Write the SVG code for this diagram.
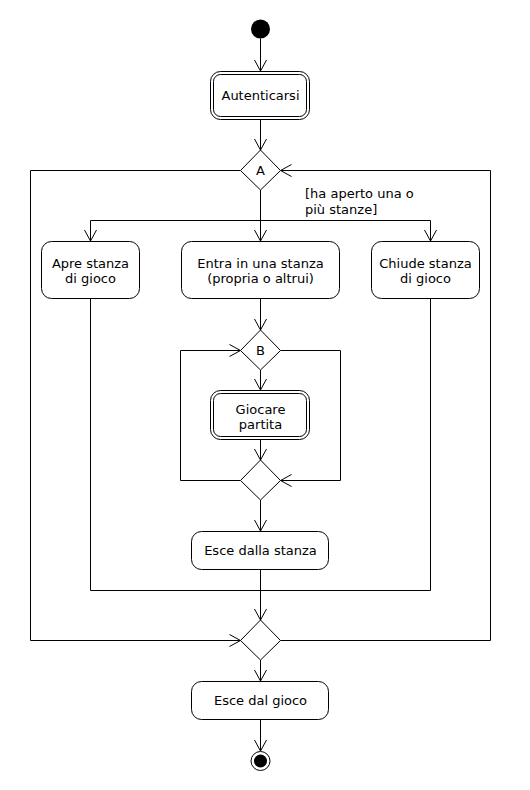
<svg xmlns="http://www.w3.org/2000/svg" width="530" height="790" viewBox="0 0 530 790">
<style>
.ln{fill:none;stroke:#000;stroke-width:1}
.box{fill:#fff;stroke:#000;stroke-width:1}
.dia{fill:#fff;stroke:#000;stroke-width:1}
text{font-family:"DejaVu Sans",sans-serif;font-size:13px;fill:#000}
.c{text-anchor:middle}
</style>
<defs>
<marker id="arr" markerUnits="userSpaceOnUse" markerWidth="14" markerHeight="14" refX="11" refY="6" orient="auto" overflow="visible">
<path d="M0,0 L11,6 L0,12" fill="none" stroke="#000" stroke-width="1"/>
</marker>
</defs>
<rect width="530" height="790" fill="#fff"/>
<g id="connectors">
<line class="ln" x1="260.5" y1="38.5" x2="260.5" y2="71" marker-end="url(#arr)"/>
<line class="ln" x1="260.5" y1="119.5" x2="260.5" y2="150" marker-end="url(#arr)"/>
<polyline class="ln" points="240.5,170.5 30.5,170.5 30.5,640.5 240.5,640.5" marker-end="url(#arr)"/>
<polyline class="ln" points="280.5,640.5 490.5,640.5 490.5,170.5 280.5,170.5" marker-end="url(#arr)"/>
<line class="ln" x1="260.5" y1="190" x2="260.5" y2="241" marker-end="url(#arr)"/>
<line class="ln" x1="90.5" y1="220.5" x2="430.5" y2="220.5"/>
<line class="ln" x1="90.5" y1="220.5" x2="90.5" y2="241" marker-end="url(#arr)"/>
<line class="ln" x1="430.5" y1="220.5" x2="430.5" y2="241" marker-end="url(#arr)"/>
<line class="ln" x1="260.5" y1="298.5" x2="260.5" y2="330" marker-end="url(#arr)"/>
<polyline class="ln" points="240.5,480.5 180.5,480.5 180.5,350.5 240.5,350.5" marker-end="url(#arr)"/>
<polyline class="ln" points="280.5,350.5 340.5,350.5 340.5,480.5 280.5,480.5" marker-end="url(#arr)"/>
<line class="ln" x1="260.5" y1="370" x2="260.5" y2="390" marker-end="url(#arr)"/>
<line class="ln" x1="260.5" y1="439.5" x2="260.5" y2="460" marker-end="url(#arr)"/>
<line class="ln" x1="260.5" y1="500" x2="260.5" y2="531" marker-end="url(#arr)"/>
<line class="ln" x1="260.5" y1="569.5" x2="260.5" y2="620" marker-end="url(#arr)"/>
<polyline class="ln" points="90.5,298.5 90.5,590.5 430.5,590.5 430.5,298.5"/>
<line class="ln" x1="260.5" y1="660" x2="260.5" y2="681" marker-end="url(#arr)"/>
<line class="ln" x1="260.5" y1="719.5" x2="260.5" y2="751" marker-end="url(#arr)"/>
<text x="305" y="198">[ha aperto una o</text>
<text x="305" y="214">più stanze]</text>
</g>
<g id="start"><circle cx="260.5" cy="29" r="9.5" fill="#000"/></g>
<g id="autenticarsi">
<rect class="box" x="210.5" y="71.5" width="99" height="48" rx="10"/>
<rect class="box" x="213.5" y="74.5" width="93" height="42" rx="7"/>
<text class="c" x="260.5" y="100">Autenticarsi</text>
</g>
<g id="decisionA">
<polygon class="dia" points="260.5,150 280.5,170.5 260.5,190 240.5,170.5"/>
<text class="c" x="260.5" y="175">A</text>
</g>
<g id="apre">
<rect class="box" x="41.5" y="241.5" width="98" height="57" rx="10"/>
<text class="c" x="90.5" y="268">Apre stanza</text>
<text class="c" x="90.5" y="283">di gioco</text>
</g>
<g id="entra">
<rect class="box" x="181.5" y="241.5" width="158" height="57" rx="10"/>
<text class="c" x="260.5" y="268">Entra in una stanza</text>
<text class="c" x="260.5" y="283">(propria o altrui)</text>
</g>
<g id="chiude">
<rect class="box" x="371.5" y="241.5" width="108" height="57" rx="10"/>
<text class="c" x="425.5" y="268">Chiude stanza</text>
<text class="c" x="425.5" y="283">di gioco</text>
</g>
<g id="decisionB">
<polygon class="dia" points="260.5,330 280.5,350.5 260.5,370 240.5,350.5"/>
<text class="c" x="260.5" y="355">B</text>
</g>
<g id="giocare">
<rect class="box" x="210.5" y="390.5" width="99" height="49" rx="10"/>
<rect class="box" x="213.5" y="393.5" width="93" height="43" rx="7"/>
<text class="c" x="260.5" y="414">Giocare</text>
<text class="c" x="260.5" y="429">partita</text>
</g>
<g id="mergeB">
<polygon class="dia" points="260.5,460 280.5,480.5 260.5,500 240.5,480.5"/>
</g>
<g id="esceStanza">
<rect class="box" x="191.5" y="531.5" width="137" height="38" rx="10"/>
<text class="c" x="260.5" y="555">Esce dalla stanza</text>
</g>
<g id="mergeA">
<polygon class="dia" points="260.5,620 280.5,640.5 260.5,660 240.5,640.5"/>
</g>
<g id="esceGioco">
<rect class="box" x="191.5" y="681.5" width="137" height="38" rx="10"/>
<text class="c" x="260.5" y="705">Esce dal gioco</text>
</g>
<g id="end">
<circle cx="260.5" cy="761" r="9.5" fill="#fff" stroke="#000" stroke-width="1"/>
<circle cx="260.5" cy="761" r="6.5" fill="#000"/>
</g>
</svg>
